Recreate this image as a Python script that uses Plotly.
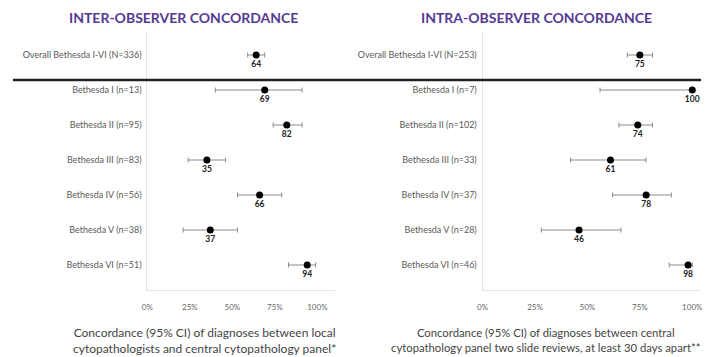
import plotly.graph_objects as go

W, H = 711, 357

rows = [0, 1, 2, 3, 4, 5, 6]
left_labels = ["Overall Bethesda I-VI (N=336)", "Bethesda I (n=13)", "Bethesda II (n=95)",
               "Bethesda III (n=83)", "Bethesda IV (n=56)", "Bethesda V (n=38)", "Bethesda VI (n=51)"]
left_values = [64, 69, 82, 35, 66, 37, 94]
left_lo = [59, 40, 74, 24, 53, 21, 83]
left_hi = [69, 91, 91, 46, 79, 53, 99]

right_labels = ["Overall Bethesda I-VI (N=253)", "Bethesda I (n=7)", "Bethesda II (n=102)",
                "Bethesda III (n=33)", "Bethesda IV (n=37)", "Bethesda V (n=28)", "Bethesda VI (n=46)"]
right_values = [75, 100, 74, 61, 78, 46, 98]
right_lo = [69, 56, 65, 42, 62, 28, 89]
right_hi = [81, 100, 81, 78, 90, 66, 100]

tick_vals = [0, 25, 50, 75, 100]
tick_text = ["0%", "25%", "50%", "75%", "100%"]

FONT = "Lato"
fig = go.Figure()


def add_panel(values, lo, hi, xa, ya):
    fig.add_trace(go.Scatter(
        x=values, y=rows, mode="markers+text",
        marker=dict(color="black", size=7),
        text=[f"<b>{v}</b>" for v in values],
        textposition="bottom center",
        textfont=dict(family=FONT, size=8.5, color="#222"),
        error_x=dict(type="data", symmetric=False,
                     array=[h - v for h, v in zip(hi, values)],
                     arrayminus=[v - l for v, l in zip(values, lo)],
                     color="#8a8a8a", thickness=1, width=2.5),
        xaxis=xa, yaxis=ya, showlegend=False, cliponaxis=False,
    ))


add_panel(left_values, left_lo, left_hi, "x", "y")
add_panel(right_values, right_lo, right_hi, "x2", "y2")

y_top = 1 - 32 / H
y_bot = 1 - 290 / H
yr = [(290 - 55) / 35, (32 - 55) / 35]

axis_common = dict(showgrid=False, zeroline=False, showline=True, linecolor="#e6e6e6", linewidth=1)

fig.update_layout(
    width=W, height=H,
    margin=dict(l=0, r=0, t=0, b=0),
    paper_bgcolor="white", plot_bgcolor="white",
    xaxis=dict(domain=[143 / W, 333 / W], range=[0, 110.5], tickvals=tick_vals, ticktext=tick_text,
               ticks="outside", ticklen=9, tickcolor="rgba(0,0,0,0)",
               tickfont=dict(family=FONT, size=8, color="#666"), anchor="y", **axis_common),
    yaxis=dict(domain=[y_bot, y_top], range=yr, tickvals=rows, ticktext=left_labels,
               ticks="outside", ticklen=3, tickcolor="rgba(0,0,0,0)",
               tickfont=dict(family=FONT, size=9, color="#5a5a5a"), anchor="x", **axis_common),
    xaxis2=dict(domain=[482 / W, 703 / W], range=[0, 104.2], tickvals=tick_vals, ticktext=tick_text,
                ticks="outside", ticklen=9, tickcolor="rgba(0,0,0,0)",
                tickfont=dict(family=FONT, size=8, color="#666"), anchor="y2", **axis_common),
    yaxis2=dict(domain=[y_bot, y_top], range=yr, tickvals=rows, ticktext=right_labels,
                ticks="outside", ticklen=3, tickcolor="rgba(0,0,0,0)",
                tickfont=dict(family=FONT, size=9, color="#5a5a5a"), anchor="x2", **axis_common),
)

fig.add_shape(type="line", xref="paper", yref="paper",
              x0=7 / W, x1=703 / W, y0=1 - 80 / H, y1=1 - 80 / H,
              line=dict(color="#222", width=2.5))

purple = "#553a93"
fig.add_annotation(text="<b>INTER-OBSERVER CONCORDANCE</b>", xref="paper", yref="paper",
                   x=180 / W, y=1 - 17 / H, showarrow=False, xanchor="center", yanchor="middle",
                   font=dict(family=FONT, size=14, color=purple))
fig.add_annotation(text="<b>INTRA-OBSERVER CONCORDANCE</b>", xref="paper", yref="paper",
                   x=537 / W, y=1 - 17 / H, showarrow=False, xanchor="center", yanchor="middle",
                   font=dict(family=FONT, size=14, color=purple))

fig.add_annotation(text="Concordance (95% CI) of diagnoses between local<br>cytopathologists and central cytopathology panel*",
                   xref="paper", yref="paper", x=201 / W, y=1 - 340 / H, showarrow=False,
                   xanchor="center", yanchor="middle", align="center",
                   font=dict(family=FONT, size=12, color="#444"))
fig.add_annotation(text="Concordance (95% CI) of diagnoses between central<br>cytopathology panel two slide reviews, at least 30 days apart**",
                   xref="paper", yref="paper", x=546 / W, y=1 - 340 / H, showarrow=False,
                   xanchor="center", yanchor="middle", align="center",
                   font=dict(family=FONT, size=11.3, color="#444"))

fig.write_html("out.html", config={"displayModeBar": False},
               post_script="document.body.style.margin='0';document.body.style.overflow='hidden';")
